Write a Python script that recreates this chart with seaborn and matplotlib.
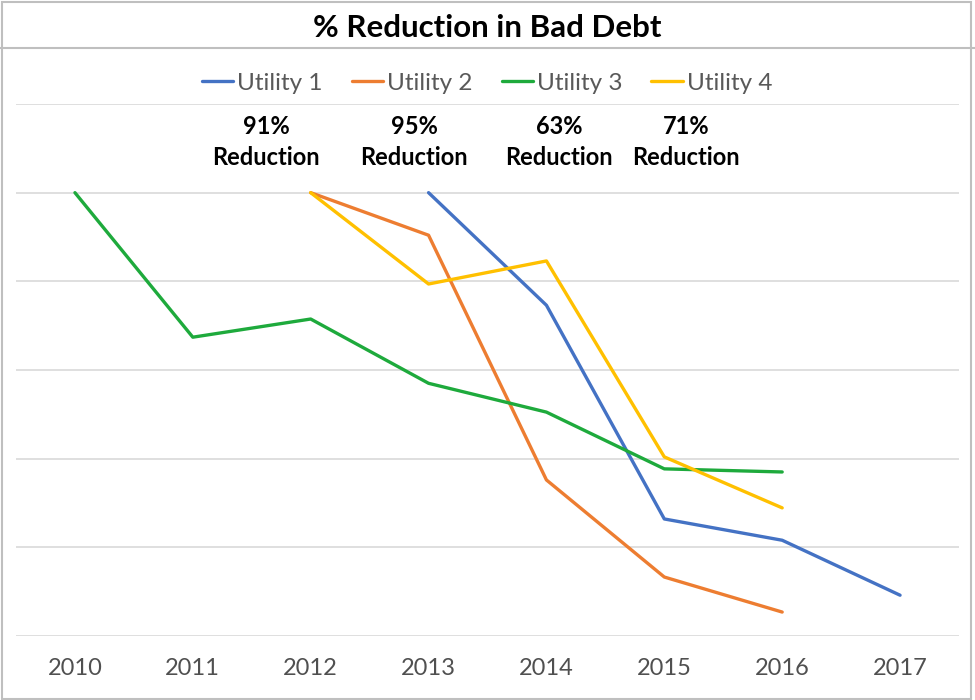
import pandas as pd
import numpy as np
import matplotlib
matplotlib.use("Agg")
import matplotlib.pyplot as plt
import seaborn as sns

# Données (indice 100 = première année de chaque utility)
years = [2010, 2011, 2012, 2013, 2014, 2015, 2016, 2017]
utility_1 = [np.nan, np.nan, np.nan, 100, 74.6, 26.4, 21.6, 9.2]
utility_2 = [np.nan, np.nan, 100, 90.4, 35.2, 13.3, 5.4, np.nan]
utility_3 = [100, 67.4, 71.5, 57.0, 50.5, 37.7, 37.0, np.nan]
utility_4 = [np.nan, np.nan, 100, 79.4, 84.6, 40.4, 28.9, np.nan]
series_names = ["Utility 1", "Utility 2", "Utility 3", "Utility 4"]
reductions = ["91%\nReduction", "95%\nReduction", "63%\nReduction", "71%\nReduction"]
colors = ["#4472C4", "#ED7D31", "#1EAA3C", "#FFC000"]

df = pd.DataFrame({"Year": years, "Utility 1": utility_1, "Utility 2": utility_2,
                   "Utility 3": utility_3, "Utility 4": utility_4})
long_df = df.melt(id_vars="Year", var_name="Utility", value_name="Value").dropna()

sns.set_theme(style="white")
plt.rcParams["font.family"] = ["Lato", "DejaVu Sans"]

fig = plt.figure(figsize=(9.75, 7), dpi=100)
ax = fig.add_axes([16 / 975, 1 - 636 / 700, 943 / 975, 532 / 700])

sns.lineplot(data=long_df, x="Year", y="Value", hue="Utility", hue_order=series_names,
             palette=colors, linewidth=2.4, ax=ax, legend=False)

ax.set_xlim(2009.5, 2017.5)
ax.set_ylim(0, 120)
ax.set_yticks(np.arange(0, 121, 20))
ax.set_yticklabels([])
ax.set_xticks(years)
ax.set_xticklabels([str(y) for y in years], fontsize=17, color="#505050")
ax.tick_params(axis="x", length=0, pad=16)
ax.tick_params(axis="y", length=0)
ax.grid(axis="y", color="#D9D9D9", linewidth=1.2)
ax.set_axisbelow(True)
ax.set_xlabel("")
ax.set_ylabel("")
for s in ax.spines.values():
    s.set_visible(False)

# Légende
handles = [plt.Line2D([], [], color=c, linewidth=2.4) for c in colors]
leg = fig.legend(handles, series_names, loc="center", bbox_to_anchor=(487 / 975, 1 - 83 / 700),
                 ncol=4, frameon=False, fontsize=17.5, handlelength=1.3, handletextpad=0.15,
                 columnspacing=1.2)
for t in leg.get_texts():
    t.set_color("#595959")

# Annotations de réduction
label_x = [266, 414, 559, 686]
for x, txt in zip(label_x, reductions):
    fig.text(x / 975, 1 - 142 / 700, txt, ha="center", va="center", fontsize=17,
             fontweight="bold", linespacing=1.4, color="black")

# Titre + cadres
fig.text(487 / 975, 1 - 28 / 700, "% Reduction in Bad Debt", ha="center", va="center",
         fontsize=22.5, fontweight="bold", color="black")
fig.add_artist(plt.Rectangle((0.002, 0.002), 0.994, 0.995, transform=fig.transFigure,
                             fill=False, edgecolor="#BFBFBF", linewidth=1.5))
fig.add_artist(plt.Line2D([0, 1], [1 - 48 / 700, 1 - 48 / 700], transform=fig.transFigure,
                          color="#BFBFBF", linewidth=1.5))

fig.savefig("out.png", dpi=100)
